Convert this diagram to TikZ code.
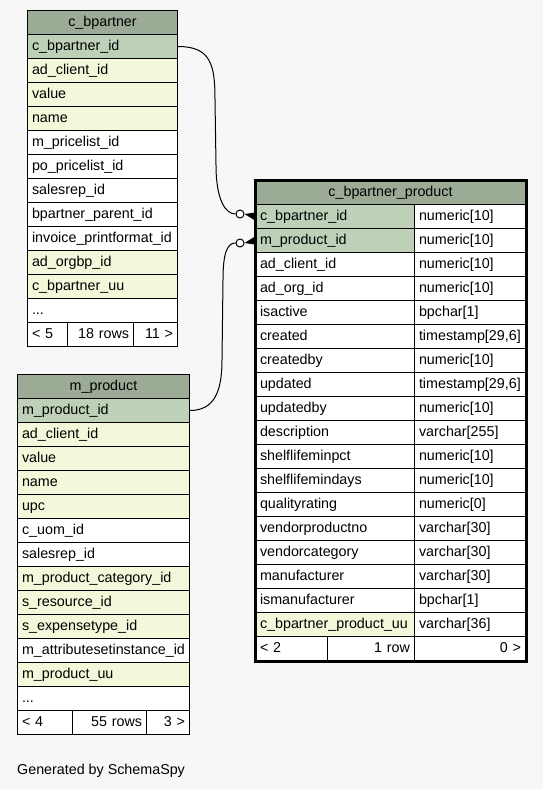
\documentclass[tikz,border=0pt]{standalone}
\usepackage{fontspec}
\setmainfont{Liberation Sans}
\usepackage{tikz}
\usetikzlibrary{positioning, calc}
\definecolor{schemabg}{HTML}{F7F7F7}
\definecolor{schemahead}{HTML}{9BAB96}
\definecolor{schemapk}{HTML}{BED1B8}
\definecolor{schemaidx}{HTML}{F4F7DA}
\newcommand{\tabfont}{\fontsize{14.3}{16}\selectfont}

\begin{document}
\begin{tikzpicture}[
    x=1pt, y=-1pt,
    cell/.style={draw, line width=1pt, anchor=north west, fill=white, minimum height=24pt,
      inner xsep=4.5pt, inner ysep=0pt, text height=11.5pt, text depth=3pt, align=left, font=\tabfont},
    headcell/.style={cell, fill=schemahead, align=center},
    odot/.style={circle, draw, line width=1pt, fill=white, inner sep=0pt, minimum size=8pt},
    relation/.style={line width=1pt},
  ]
  \useasboundingbox[fill=schemabg] (0,0) rectangle (543,789);

  % c_bpartner
  \node[headcell, text width=141pt] (bp-hdr) at (27,10) {c\_bpartner};
  \foreach \cname/\cfill [count=\i] in {c\_bpartner\_id/schemapk, ad\_client\_id/schemaidx,
      value/schemaidx, name/schemaidx, m\_pricelist\_id/white, po\_pricelist\_id/white,
      salesrep\_id/white, bpartner\_parent\_id/white, invoice\_printformat\_id/white,
      ad\_orgbp\_id/schemaidx, c\_bpartner\_uu/schemaidx}
    \node[cell, fill=\cfill, text width=141pt] (bp-\i) at (27,{34+24*(\i-1)}) {\cname};
  \node[cell, text width=141pt] (bp-more) at (27,298) {...};
  \node[cell, text width=31pt] (bp-foot1) at (27,322) {< 5};
  \node[cell, text width=57pt, align=right] (bp-foot2) at (67,322) {18 rows};
  \node[cell, text width=35pt, align=right] (bp-foot3) at (133,322) {11 >};

  % m_product
  \node[headcell, text width=163pt] (mp-hdr) at (17,374) {m\_product};
  \foreach \cname/\cfill [count=\i] in {m\_product\_id/schemapk, ad\_client\_id/schemaidx,
      value/schemaidx, name/schemaidx, upc/schemaidx, c\_uom\_id/white, salesrep\_id/white,
      m\_product\_category\_id/schemaidx, s\_resource\_id/schemaidx, s\_expensetype\_id/schemaidx,
      m\_attributesetinstance\_id/white, m\_product\_uu/schemaidx}
    \node[cell, fill=\cfill, text width=163pt] (mp-\i) at (17,{398+24*(\i-1)}) {\cname};
  \node[cell, text width=163pt] (mp-more) at (17,686) {...};
  \node[cell, text width=46pt] (mp-foot1) at (17,710) {< 4};
  \node[cell, text width=65pt, align=right] (mp-foot2) at (72,710) {55 rows};
  \node[cell, text width=34pt, align=right] (mp-foot3) at (146,710) {3 >};

  % c_bpartner_product
  \node[headcell, text width=261pt] (pp-hdr) at (255,180) {c\_bpartner\_product};
  \foreach \cname/\ctype/\cfill [count=\i] in {c\_bpartner\_id/numeric[10]/schemapk,
      m\_product\_id/numeric[10]/schemapk, ad\_client\_id/numeric[10]/white,
      ad\_org\_id/numeric[10]/white, isactive/bpchar[1]/white,
      {created/timestamp[29,6]/white}, createdby/numeric[10]/white,
      {updated/timestamp[29,6]/white}, updatedby/numeric[10]/white,
      description/varchar[255]/white, shelflifeminpct/numeric[10]/white,
      shelflifemindays/numeric[10]/white, qualityrating/numeric[0]/white,
      vendorproductno/varchar[30]/white, vendorcategory/varchar[30]/white,
      manufacturer/varchar[30]/white, ismanufacturer/bpchar[1]/white,
      c\_bpartner\_product\_uu/varchar[36]/schemaidx}{
    \node[cell, fill=\cfill, text width=150pt] (pp-\i) at (255,{204+24*(\i-1)}) {\cname};
    \node[cell, text width=102pt] (ppt-\i) at (414,{204+24*(\i-1)}) {\ctype};
  }
  \node[cell, text width=63pt] (pp-foot1) at (255,636) {< 2};
  \node[cell, text width=78pt, align=right] (pp-foot2) at (327,636) {1 row};
  \node[cell, text width=102pt, align=right] (pp-foot3) at (414,636) {0 >};
  \draw[line width=3pt] (pp-hdr.north west) rectangle (pp-foot3.south east);

  % Relations
  \node[odot] (bp-dot) at (240,214) {};
  \node[odot] (mp-dot) at (240,243) {};
  \draw[relation] (bp-1.east) .. controls +(33,0) and +(0,-35) .. (215,100) -- (216,165)
    .. controls +(0,35) and +(-10,0) .. (bp-dot.west);
  \draw[relation] (mp-1.east) .. controls +(25,0) and +(0,30) .. (222,360) -- (223,280)
    .. controls +(0,-28) and +(-8,0) .. (mp-dot.west);
  \fill (bp-dot.east) -- ($(pp-1.west)+(0,-4)$) -- ($(pp-1.west)+(0,4)$) -- cycle;
  \fill (mp-dot.east) -- ($(pp-2.west)+(0,-4)$) -- ($(pp-2.west)+(0,4)$) -- cycle;

  \node[anchor=base west, font=\tabfont, inner sep=0pt] (credit) at (17,774) {Generated by SchemaSpy};
\end{tikzpicture}
\end{document}
